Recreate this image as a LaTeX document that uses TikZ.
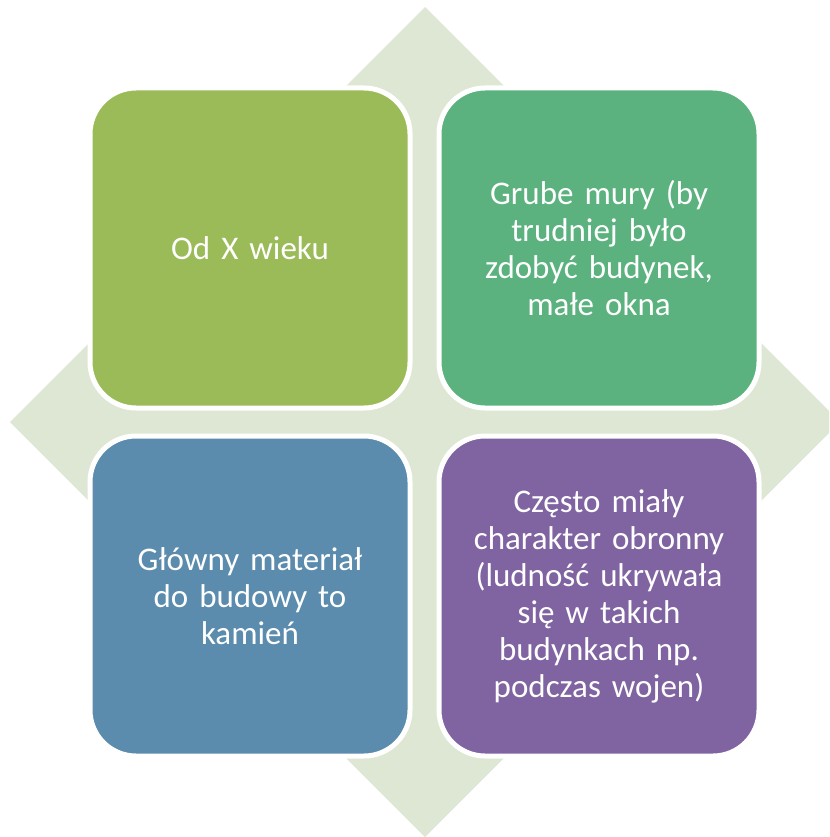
\documentclass[tikz,border=0pt]{standalone}
\usepackage{fontspec}
\setmainfont{Carlito}
\definecolor{diamondbg}{HTML}{DEE7D3}
\definecolor{olivebox}{HTML}{9BBB59}
\definecolor{greenbox}{HTML}{5BB27E}
\definecolor{bluebox}{HTML}{5B8BAD}
\definecolor{purplebox}{HTML}{8064A2}
\tikzset{
  tile/.style={draw=white, line width=5pt, rounded corners=46pt,
    minimum width=320pt, minimum height=320pt, text width=290pt,
    align=center, text=white, font=\fontsize{33}{37}\selectfont}
}

\begin{document}
\begin{tikzpicture}[x=1pt,y=-1pt]

	\useasboundingbox (0,0) rectangle (829,837);
	\clip (0,0) rectangle (829,837);
	% background diamond
	\fill[diamondbg] (425,7) -- (840,422) -- (425,837) -- (10,422) -- cycle;

	\node[tile, fill=olivebox] (wiek) at (250,248) {Od X wieku};
	\node[tile, fill=greenbox] (mury) at (599,248) {Grube mury (by\\ trudniej było\\ zdobyć budynek,\\ małe okna};
	\node[tile, fill=bluebox] (kamien) at (250,596) {Główny materiał\\ do budowy to\\ kamień};
	\node[tile, fill=purplebox] (obrona) at (599,596) {Często miały\\ charakter obronny\\ (ludność ukrywała\\ się w takich\\ budynkach np.\\ podczas wojen)};

\end{tikzpicture}
\end{document}
